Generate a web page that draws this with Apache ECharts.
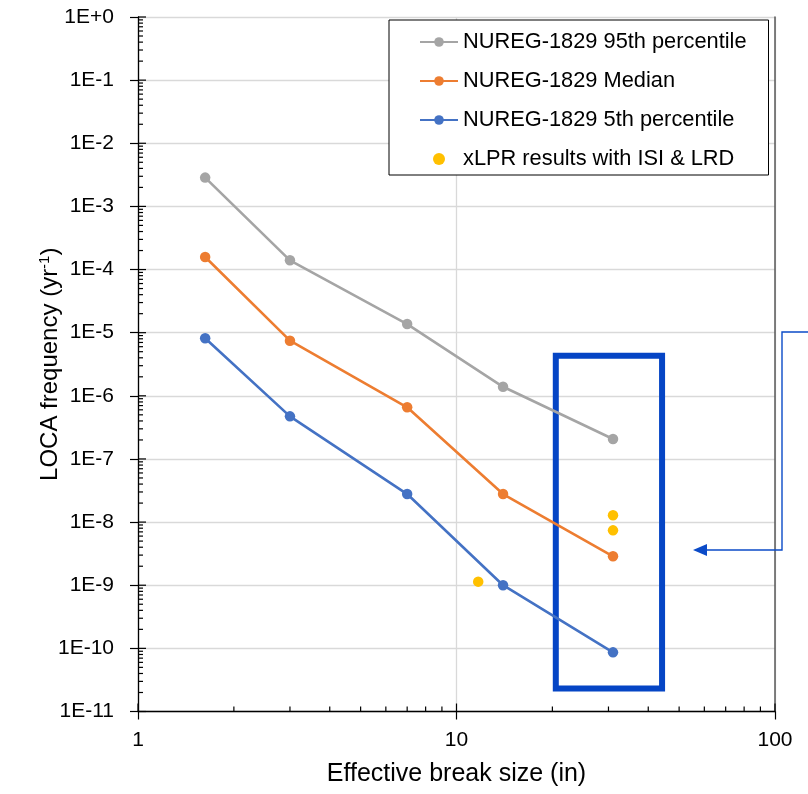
<!DOCTYPE html>
<html>
<head>
<meta charset="utf-8">
<script src="https://cdn.jsdelivr.net/npm/echarts@6/dist/echarts.min.js"></script>
<style>html,body{margin:0;padding:0;background:#fff}#c{width:808px;height:794px}</style>
</head>
<body>
<div id="c"></div>
<script>
// ---- data ----
const breakSizes = [1.625, 3, 7, 14, 31];
const p95 = [2.86e-3, 1.40e-4, 1.37e-5, 1.39e-6, 2.07e-7];
const median = [1.58e-4, 7.47e-6, 6.58e-7, 2.78e-8, 2.87e-9];
const p5 = [8.15e-6, 4.73e-7, 2.78e-8, 1.0e-9, 8.65e-11];
const xlprX = [11.7, 31, 31];
const xlprY = [1.14e-9, 1.28e-8, 7.4e-9];
const seriesNames = ['NUREG-1829 95th percentile', 'NUREG-1829 Median', 'NUREG-1829 5th percentile', 'xLPR results with ISI & LRD'];
const xMin = 1, xMax = 100, yMin = 1e-11, yMax = 1;
const xDecades = [1, 10];
const yDecades = [1e-11,1e-10,1e-9,1e-8,1e-7,1e-6,1e-5,1e-4,1e-3,1e-2,1e-1];
const yMajors = [1e-11,1e-10,1e-9,1e-8,1e-7,1e-6,1e-5,1e-4,1e-3,1e-2,1e-1,1];
const xMajors = [1, 10, 100];
const minorMult = [2,3,4,5,6,7,8,9];
const boxX = [20.5, 44.2];
const boxY = [4.3e-6, 2.32e-11];

const FONT = 'Liberation Sans';
const chart = echarts.init(document.getElementById('c'), null, {renderer: 'canvas'});

function zip(xs, ys) { return xs.map((x, i) => [x, ys[i]]); }

const tickSeries = {
  type: 'custom',
  silent: true,
  clip: false,
  z: 5,
  data: [[10, 1e-5]],
  renderItem: function (params, api) {
    const children = [];
    const st = {stroke: '#000', lineWidth: 1.2};
    yDecades.forEach(d => minorMult.forEach(m => {
      const p = api.coord([xMin, d * m]);
      children.push({type: 'line', shape: {x1: p[0], y1: p[1], x2: p[0] + 5, y2: p[1]}, style: st});
    }));
    yMajors.forEach(v => {
      const p = api.coord([xMin, v]);
      children.push({type: 'line', shape: {x1: p[0], y1: p[1], x2: p[0] + 8, y2: p[1]}, style: st});
    });
    xDecades.forEach(d => minorMult.forEach(m => {
      const p = api.coord([d * m, yMin]);
      children.push({type: 'line', shape: {x1: p[0], y1: p[1], x2: p[0], y2: p[1] - 5}, style: st});
    }));
    xMajors.forEach(v => {
      const p = api.coord([v, yMin]);
      children.push({type: 'line', shape: {x1: p[0], y1: p[1], x2: p[0], y2: p[1] - 8}, style: st});
    });
    return {type: 'group', children: children};
  }
};

const option = {
  animation: false,
  backgroundColor: '#fff',
  textStyle: {fontFamily: FONT},
  grid: {left: 138, right: 33, top: 17, bottom: 82.5, containLabel: false},
  legend: {
    orient: 'vertical',
    left: 389, top: 20,
    padding: [11, 22, 5, 30],
    borderColor: '#000', borderWidth: 1,
    backgroundColor: '#fff',
    itemWidth: 38, itemHeight: 12, itemGap: 17,
    textStyle: {fontSize: 21.8, fontFamily: FONT, color: '#000', lineHeight: 20},
    data: seriesNames
  },
  xAxis: {
    type: 'log', logBase: 10, min: xMin, max: xMax, interval: 1,
    name: 'Effective break size (in)', nameLocation: 'middle', nameGap: 50, nameMoveOverlap: false,
    nameTextStyle: {fontSize: 25, fontFamily: FONT, color: '#000'},
    axisLine: {show: true, onZero: false, lineStyle: {color: '#000', width: 1.3}},
    axisTick: {show: true, inside: false, length: 8, lineStyle: {color: '#000', width: 1.2}},
    axisLabel: {fontSize: 21, fontFamily: FONT, color: '#000', margin: 18},
    splitLine: {show: true, lineStyle: {color: '#d9d9d9', width: 1.3}},
    minorTick: {show: false}
  },
  yAxis: [{
    type: 'log', logBase: 10, min: yMin, max: yMax, interval: 1,
    name: 'LOCA frequency (yr{sup|-1})', nameLocation: 'middle', nameGap: 74, nameMoveOverlap: false,
    nameTextStyle: {fontSize: 24, fontFamily: FONT, color: '#000',
      rich: {sup: {fontSize: 15, fontFamily: FONT, color: '#000', verticalAlign: 'top', padding: [0, 0, 12, 0]}}},
    axisLine: {show: true, onZero: false, lineStyle: {color: '#000', width: 1.3}},
    axisTick: {show: true, inside: false, length: 8, lineStyle: {color: '#000', width: 1.2}},
    axisLabel: {fontSize: 21, fontFamily: FONT, color: '#000', margin: 24,
      formatter: function (v) { const e = Math.round(Math.log10(v)); return '1E' + (e >= 0 ? '+' : '') + e; }},
    splitLine: {show: true, lineStyle: {color: '#d9d9d9', width: 1.3}},
    minorTick: {show: false}
  }, {
    type: 'log', logBase: 10, min: yMin, max: yMax, interval: 1, position: 'right',
    axisLine: {show: true, lineStyle: {color: '#595959', width: 1.5}},
    axisTick: {show: false}, axisLabel: {show: false}, splitLine: {show: false}
  }],
  series: [
    {name: seriesNames[0], type: 'line', data: zip(breakSizes, p95), symbol: 'circle', symbolSize: 10.5,
      lineStyle: {color: '#A5A5A5', width: 2.6}, itemStyle: {color: '#A5A5A5'}, z: 3},
    {name: seriesNames[1], type: 'line', data: zip(breakSizes, median), symbol: 'circle', symbolSize: 10.5,
      lineStyle: {color: '#ED7D31', width: 2.6}, itemStyle: {color: '#ED7D31'}, z: 3},
    {name: seriesNames[2], type: 'line', data: zip(breakSizes, p5), symbol: 'circle', symbolSize: 10.5,
      lineStyle: {color: '#4472C4', width: 2.6}, itemStyle: {color: '#4472C4'}, z: 3,
      markArea: {silent: true, itemStyle: {color: 'rgba(0,0,0,0)', borderColor: '#0545C5', borderWidth: 6},
        data: [[{xAxis: boxX[0], yAxis: boxY[0]}, {xAxis: boxX[1], yAxis: boxY[1]}]]}},
    {name: seriesNames[3], type: 'scatter', data: zip(xlprX, xlprY), symbol: 'circle', symbolSize: 10.5,
      itemStyle: {color: '#FFC000', opacity: 1}, z: 4},
    tickSeries
  ],
  graphic: [
    {type: 'polyline', silent: true, z: 100,
      shape: {points: [[810, 332], [782, 332], [782, 550], [704, 550]]},
      style: {stroke: '#0B4BC8', lineWidth: 1.4, fill: null}},
    {type: 'polygon', silent: true, z: 100,
      shape: {points: [[693, 550], [707, 544], [707, 556]]},
      style: {fill: '#0B4BC8'}}
  ]
};
chart.setOption(option);
</script>
</body>
</html>
